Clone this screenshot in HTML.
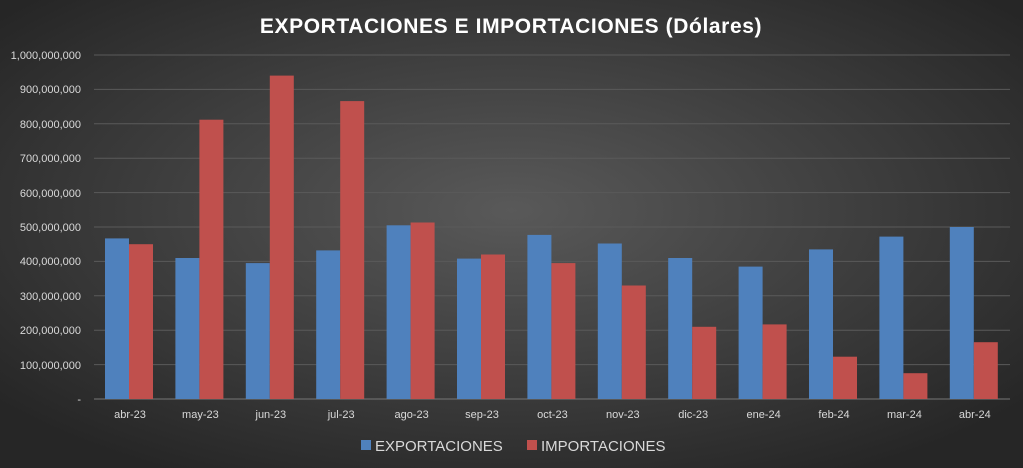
<!DOCTYPE html>
<html><head><style>
body{margin:0;width:1023px;height:468px;overflow:hidden;background:#2b2b2b}
svg{display:block;font-family:"Liberation Sans",sans-serif}
</style></head><body>
<svg width="1023" height="468" xmlns="http://www.w3.org/2000/svg">
<defs><radialGradient id="g" cx="50%" cy="45%" r="65%"><stop offset="0" stop-color="#595959"/><stop offset="1" stop-color="#262626"/></radialGradient></defs>
<rect width="1023" height="468" fill="url(#g)"/>
<text x="511" y="33" fill="#fff" font-size="21" font-weight="bold" text-anchor="middle" letter-spacing="0.6">EXPORTACIONES E IMPORTACIONES (Dólares)</text>
<g stroke="#5a5a5a" stroke-width="1">
<line x1="94" x2="1010" y1="55" y2="55"/><line x1="94" x2="1010" y1="89.4" y2="89.4"/><line x1="94" x2="1010" y1="123.8" y2="123.8"/><line x1="94" x2="1010" y1="158.2" y2="158.2"/><line x1="94" x2="1010" y1="192.6" y2="192.6"/><line x1="94" x2="1010" y1="227" y2="227"/><line x1="94" x2="1010" y1="261.4" y2="261.4"/><line x1="94" x2="1010" y1="295.8" y2="295.8"/><line x1="94" x2="1010" y1="330.2" y2="330.2"/><line x1="94" x2="1010" y1="364.6" y2="364.6"/>
</g>
<line x1="94" x2="1010" y1="399" y2="399" stroke="#777"/>
<g fill="#d9d9d9" font-size="11" text-anchor="end">
<text x="81" y="59">1,000,000,000</text><text x="81" y="93">900,000,000</text><text x="81" y="128">800,000,000</text><text x="81" y="162">700,000,000</text><text x="81" y="197">600,000,000</text><text x="81" y="231">500,000,000</text><text x="81" y="265">400,000,000</text><text x="81" y="300">300,000,000</text><text x="81" y="334">200,000,000</text><text x="81" y="369">100,000,000</text><text x="81" y="403">-</text>
</g>
<g fill="#4f81bd">
<rect x="105" y="238.4" width="24" height="160.6"/><rect x="175.4" y="258" width="24" height="141"/><rect x="245.8" y="263.1" width="24" height="135.9"/><rect x="316.2" y="250.4" width="24" height="148.6"/><rect x="386.6" y="225.3" width="24" height="173.7"/><rect x="457" y="258.6" width="24" height="140.4"/><rect x="527.4" y="234.9" width="24" height="164.1"/><rect x="597.8" y="243.5" width="24" height="155.5"/><rect x="668.2" y="258" width="24" height="141"/><rect x="738.6" y="266.6" width="24" height="132.4"/><rect x="809" y="249.4" width="24" height="149.6"/><rect x="879.4" y="236.6" width="24" height="162.4"/><rect x="949.8" y="227" width="24" height="172"/>
</g>
<g fill="#c0504d">
<rect x="129" y="244.2" width="24" height="154.8"/><rect x="199.4" y="119.7" width="24" height="279.3"/><rect x="269.8" y="75.6" width="24" height="323.4"/><rect x="340.2" y="101.1" width="24" height="297.9"/><rect x="410.6" y="222.5" width="24" height="176.5"/><rect x="481" y="254.5" width="24" height="144.5"/><rect x="551.4" y="263.1" width="24" height="135.9"/><rect x="621.8" y="285.5" width="24" height="113.5"/><rect x="692.2" y="326.8" width="24" height="72.2"/><rect x="762.6" y="324.4" width="24" height="74.6"/><rect x="833" y="356.7" width="24" height="42.3"/><rect x="903.4" y="373.2" width="24" height="25.8"/><rect x="973.8" y="342.2" width="24" height="56.8"/>
</g>
<g fill="#d9d9d9" font-size="11" text-anchor="middle">
<text x="130" y="418">abr-23</text><text x="200.4" y="418">may-23</text><text x="270.8" y="418">jun-23</text><text x="341.2" y="418">jul-23</text><text x="411.6" y="418">ago-23</text><text x="482" y="418">sep-23</text><text x="552.4" y="418">oct-23</text><text x="622.8" y="418">nov-23</text><text x="693.2" y="418">dic-23</text><text x="763.6" y="418">ene-24</text><text x="834" y="418">feb-24</text><text x="904.4" y="418">mar-24</text><text x="974.8" y="418">abr-24</text>
</g>
<rect x="361" y="440" width="10" height="10" fill="#4f81bd"/>
<text x="375" y="451" fill="#d9d9d9" font-size="15">EXPORTACIONES</text>
<rect x="527" y="440" width="10" height="10" fill="#c0504d"/>
<text x="541" y="451" fill="#d9d9d9" font-size="15">IMPORTACIONES</text>
</svg>
</body></html>
